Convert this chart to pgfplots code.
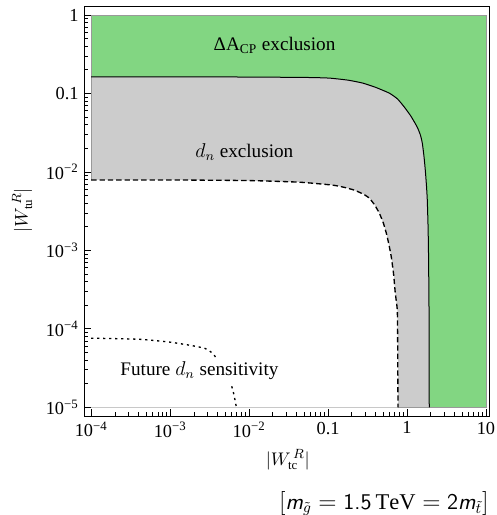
\documentclass[border=0pt]{standalone}
\usepackage{pgfplots}
\pgfplotsset{compat=1.18}
\usepackage{fontspec}
\setmainfont{Liberation Serif}
\definecolor{exgreen}{RGB}{130,214,130}
\definecolor{exgrey}{RGB}{204,204,204}
\begin{document}
\begin{tikzpicture}
\begin{axis}[
  name=ax, at={(0,0)}, anchor=south west,
  scale only axis, width=243pt, height=246pt,
  xmode=log, ymode=log,
  xmin=8.22e-5, xmax=11.09, ymin=7.74e-6, ymax=1.303,
  xtick={1e-4,1e-3,1e-2,0.1,1,10},
  xticklabels={10\textsuperscript{−4},10\textsuperscript{−3},10\textsuperscript{−2},0.1,1,10},
  ytick={1e-5,1e-4,1e-3,1e-2,0.1,1},
  yticklabels={10\textsuperscript{−5},10\textsuperscript{−4},10\textsuperscript{−3},10\textsuperscript{−2},0.1,1},
  xtick pos=bottom, ytick pos=left,
  tick align=inside,
  major tick length=4.5pt, minor tick length=2.4pt,
  tick style={black, line width=0.5pt},
  axis line style={line width=0.6pt},
  tick label style={font=\fontsize{11}{13}\selectfont},
  xlabel={$|W_{\mathrm{tc}}^{\,R}|$},
  ylabel={$|W_{\mathrm{tu}}^{\,R}|$},
  xlabel style={at={(axis description cs:0.502,-0.107)}, anchor=center, font=\fontsize{11}{13}\selectfont},
  ylabel style={at={(axis description cs:-0.154,0.502)}, anchor=center, font=\fontsize{11}{13}\selectfont},
  clip=true,
]
% green Delta A_CP exclusion region (whole box)
\addplot[fill=exgreen, draw=gray!80, line width=0.5pt] coordinates {
  (1e-4,1e-5) (10,1e-5) (10,1) (1e-4,1) } -- cycle;
% grey d_n exclusion region
\addplot[fill=exgrey, draw=none] coordinates {
  (1e-4,0.163) (1e-3,0.163) (1e-2,0.162) (0.0316,0.1607) (0.0631,0.1596)
  (0.104,0.157) (0.178,0.148) (0.272,0.136) (0.398,0.120) (0.597,0.101)
  (0.759,0.0851) (0.925,0.0671) (1.122,0.0513) (1.349,0.0372) (1.479,0.0295)
  (1.563,0.0233) (1.641,0.0158) (1.706,0.0105) (1.766,0.0066) (1.807,0.0044)
  (1.849,0.002) (1.871,1e-3) (1.897,2.5e-4) (1.910,6.3e-5) (1.914,1e-5)
  (1e-4,1e-5) } -- cycle;
% white allowed region
\addplot[fill=white, draw=none] coordinates {
  (1e-4,0.0079) (1e-3,0.0079) (1e-2,0.00776) (0.0434,0.0074) (0.113,0.0068)
  (0.158,0.00638) (0.215,0.00586) (0.282,0.00519) (0.333,0.00463) (0.389,0.0038)
  (0.446,0.00298) (0.501,0.00224) (0.547,0.00166) (0.592,0.00117) (0.633,0.00082)
  (0.676,0.0005) (0.711,0.000284) (0.754,0.000172) (0.762,6.3e-5) (0.769,1e-5)
  (1e-4,1e-5) } -- cycle;
% grey border lines of the d_n region
\addplot[draw=gray!80, line width=0.5pt] coordinates {(1e-4,0.0079) (1e-4,0.163)};
\addplot[draw=gray!80, line width=0.5pt] coordinates {(0.769,1e-5) (1.914,1e-5)};
% solid boundary
\addplot[black, line width=0.6pt, smooth, tension=0.3] coordinates {
  (1e-4,0.163) (1e-3,0.163) (1e-2,0.162) (0.0316,0.1607) (0.0631,0.1596)
  (0.104,0.157) (0.178,0.148) (0.272,0.136) (0.398,0.120) (0.597,0.101)
  (0.759,0.0851) (0.925,0.0671) (1.122,0.0513) (1.349,0.0372) (1.479,0.0295)
  (1.563,0.0233) (1.641,0.0158) (1.706,0.0105) (1.766,0.0066) (1.807,0.0044)
  (1.849,0.002) (1.871,1e-3) (1.897,2.5e-4) (1.910,6.3e-5) (1.914,1e-5) };
% dashed boundary
\addplot[black, line width=0.8pt, dash pattern=on 3.2pt off 1.8pt, smooth, tension=0.3] coordinates {
  (1e-4,0.0079) (1e-3,0.0079) (1e-2,0.00776) (0.0434,0.0074) (0.113,0.0068)
  (0.158,0.00638) (0.215,0.00586) (0.282,0.00519) (0.333,0.00463) (0.389,0.0038)
  (0.446,0.00298) (0.501,0.00224) (0.547,0.00166) (0.592,0.00117) (0.633,0.00082)
  (0.676,0.0005) (0.711,0.000284) (0.754,0.000172) (0.762,6.3e-5) (0.769,1e-5) };
% dotted future sensitivity
\addplot[black, line width=0.8pt, dash pattern=on 1.3pt off 2.3pt, smooth, tension=0.3] coordinates {
  (1e-4,7.6e-5) (4.08e-4,7.36e-5) (1e-3,6.76e-5) (1.78e-3,6.17e-5) (2.72e-3,5.66e-5)
  (3.43e-3,4.89e-5) (4.47e-3,3.47e-5) (5.25e-3,2.63e-5) (5.97e-3,1.91e-5)
  (6.46e-3,1.41e-5) (6.9e-3,1e-5) };
\node[font=\fontsize{11.5}{13}\selectfont] at (axis cs:0.021,0.414) {ΔA\textsubscript{CP} exclusion};
\node[font=\fontsize{11.5}{13}\selectfont] at (axis cs:0.0087,0.0179) {$d_n$ exclusion};
\node[font=\fontsize{11.5}{13}\selectfont, fill=white, inner sep=2pt] at (axis cs:0.00235,2.96e-5) {Future $d_n$ sensitivity};
\end{axis}
\node[anchor=east, font=\fontsize{13.5}{15}\selectfont] at (246pt,-52.5pt)
  {$[$\textsf{\itshape m}$_{\tilde{g}}=\textsf{1.5}\,\mathrm{TeV}=\textsf{2}$\textsf{\itshape m}$_{\tilde{t}}]$};
\pgfresetboundingbox
\path[use as bounding box] (-50.7pt,-59.4pt) rectangle (247.2pt,249.6pt);
\end{tikzpicture}
\end{document}
